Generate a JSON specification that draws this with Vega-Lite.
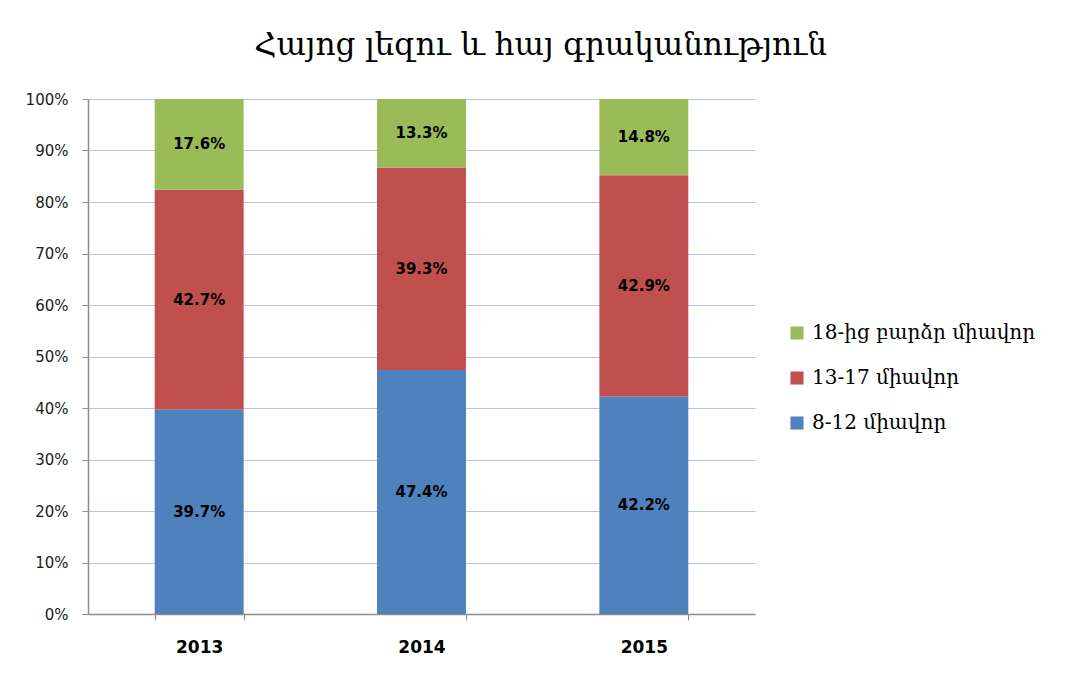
{
  "$schema": "https://vega.github.io/schema/vega-lite/v6.json",
  "autosize": {"type": "none"},
  "padding": {"left": 88, "top": 99, "right": 318, "bottom": 61},
  "width": 667,
  "height": 515,
  "background": "white",
  "config": {
    "view": {"stroke": null},
    "axisY": {
      "labelFont": "DejaVu Sans",
      "labelFontSize": 15,
      "labelColor": "#1a1a1a",
      "labelPadding": 14,
      "tickSize": 6,
      "tickColor": "#8c8c8c",
      "domainColor": "#8c8c8c",
      "domainWidth": 1.5,
      "grid": true,
      "gridColor": "#b4c6e7",
      "gridWidth": 1,
      "labelOverlap": false
    },
    "axisX": {
      "labelFont": "DejaVu Sans",
      "labelFontSize": 17,
      "labelFontWeight": "bold",
      "labelColor": "#000000",
      "labelPadding": 19,
      "tickBand": "extent",
      "tickSize": 6,
      "tickColor": "#8c8c8c",
      "domainColor": "#8c8c8c",
      "domainWidth": 1.5,
      "grid": false
    }
  },
  "title": {
    "text": "Հայոց լեզու և հայ գրականություն",
    "font": "DejaVu Serif",
    "fontSize": 31,
    "fontWeight": "normal",
    "color": "#000000",
    "anchor": "middle",
    "dx": 119,
    "offset": 30
  },
  "data": {
    "values": [
      {"year": "2013", "group": "8-12 միավոր", "ord": 1, "value": 0.397},
      {"year": "2013", "group": "13-17 միավոր", "ord": 2, "value": 0.427},
      {"year": "2013", "group": "18-ից բարձր միավոր", "ord": 3, "value": 0.176},
      {"year": "2014", "group": "8-12 միավոր", "ord": 1, "value": 0.474},
      {"year": "2014", "group": "13-17 միավոր", "ord": 2, "value": 0.393},
      {"year": "2014", "group": "18-ից բարձր միավոր", "ord": 3, "value": 0.133},
      {"year": "2015", "group": "8-12 միավոր", "ord": 1, "value": 0.422},
      {"year": "2015", "group": "13-17 միավոր", "ord": 2, "value": 0.429},
      {"year": "2015", "group": "18-ից բարձր միավոր", "ord": 3, "value": 0.148}
    ]
  },
  "encoding": {
    "x": {
      "field": "year",
      "type": "nominal",
      "scale": {"paddingInner": 0.6, "paddingOuter": 0.3},
      "axis": {"title": null, "labelAngle": 0}
    },
    "order": {"field": "ord", "type": "quantitative"}
  },
  "layer": [
    {
      "mark": {"type": "bar"},
      "encoding": {
        "y": {
          "field": "value",
          "type": "quantitative",
          "stack": "normalize",
          "scale": {"domain": [0, 1]},
          "axis": {
            "title": null,
            "format": ".0%",
            "values": [0, 0.1, 0.2, 0.3, 0.4, 0.5, 0.6, 0.7, 0.8, 0.9, 1]
          }
        },
        "color": {
          "field": "group",
          "type": "nominal",
          "scale": {
            "domain": ["18-ից բարձր միավոր", "13-17 միավոր", "8-12 միավոր"],
            "range": ["#9bbb59", "#c0504d", "#4f81bd"]
          },
          "legend": {
            "title": null,
            "orient": "none",
            "legendX": 699,
            "legendY": 224,
            "symbolType": "square",
            "symbolSize": 170,
            "symbolStrokeWidth": 0,
            "labelFont": "DejaVu Serif",
            "labelFontSize": 20,
            "labelColor": "#000000",
            "labelLimit": 340,
            "rowPadding": 25,
            "labelOffset": 5
          }
        }
      }
    },
    {
      "mark": {
        "type": "text",
        "font": "DejaVu Sans",
        "fontSize": 15,
        "fontWeight": "bold",
        "color": "#000000"
      },
      "encoding": {
        "y": {
          "field": "value",
          "type": "quantitative",
          "stack": "normalize",
          "bandPosition": 0.5,
          "axis": {
            "title": null,
            "format": ".0%",
            "values": [0, 0.1, 0.2, 0.3, 0.4, 0.5, 0.6, 0.7, 0.8, 0.9, 1]
          }
        },
        "text": {"field": "value", "type": "quantitative", "format": ".1%"}
      }
    }
  ]
}
